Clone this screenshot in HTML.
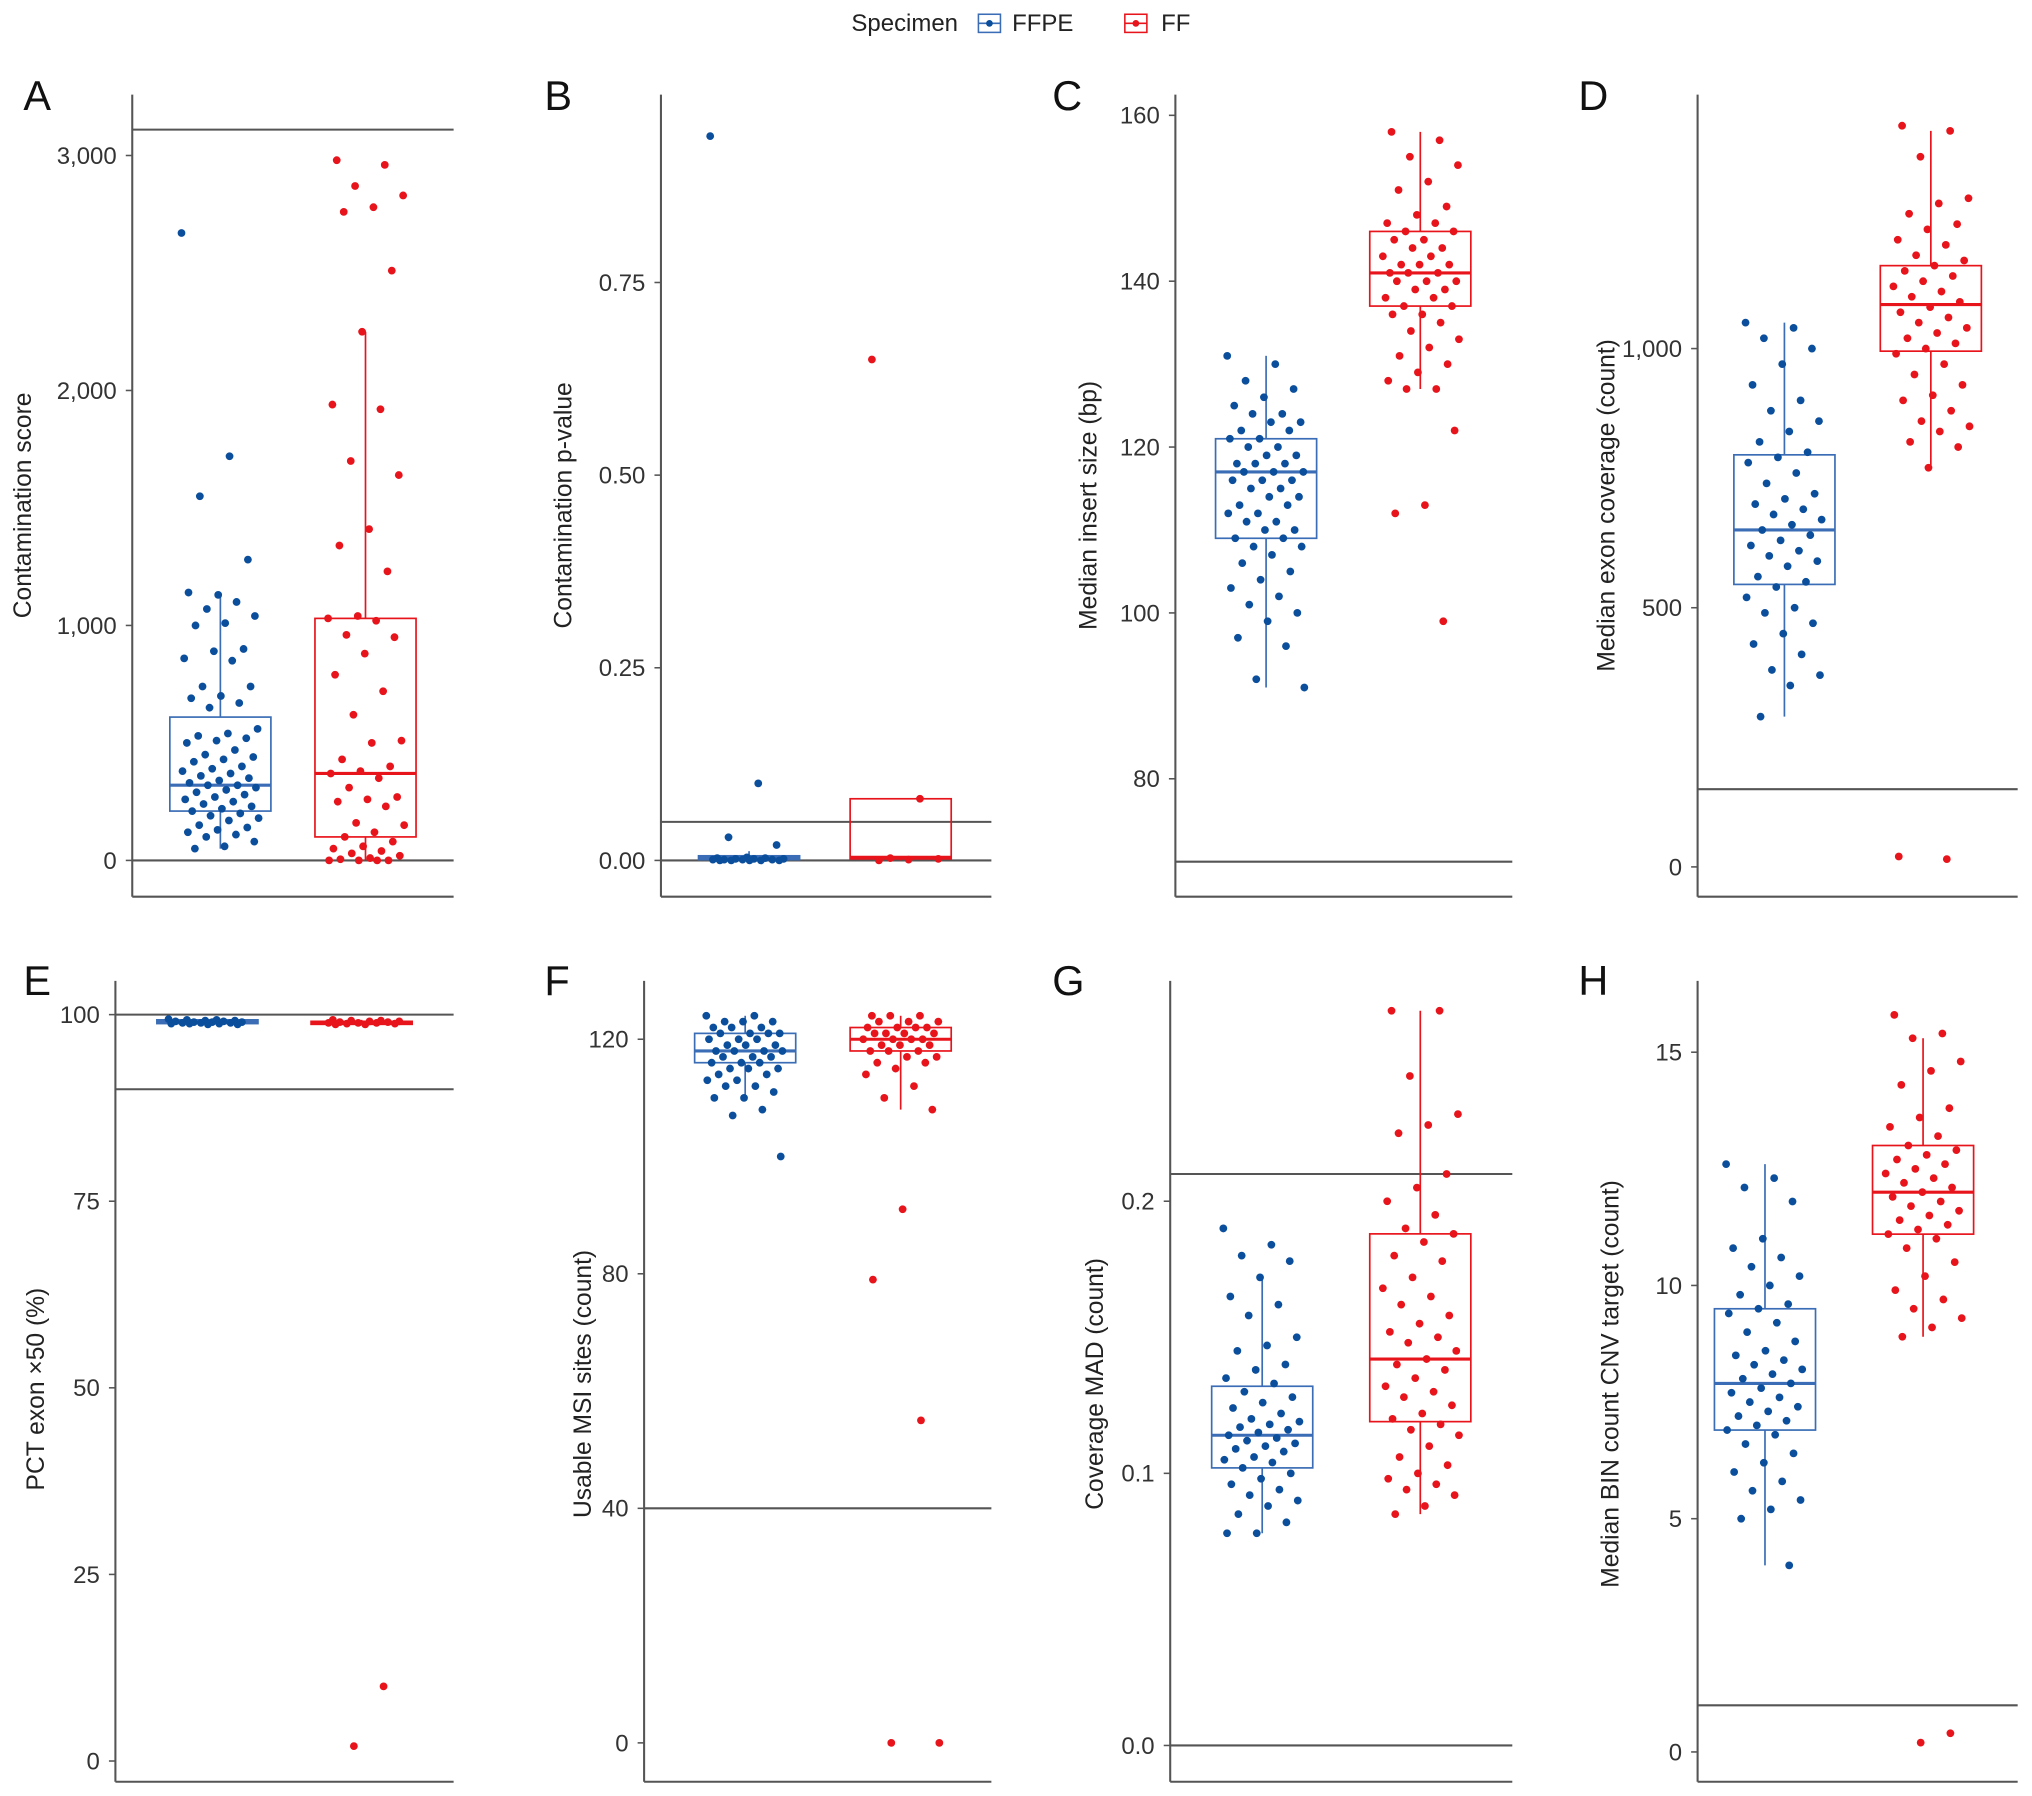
<!DOCTYPE html>
<html><head><meta charset="utf-8">
<style>
html,body{margin:0;padding:0;background:#fff;}
svg{display:block;font-family:"Liberation Sans",Arial,sans-serif;}
</style></head>
<body>
<svg id="chart" width="2032" height="1796" viewBox="0 0 1568 1386" xmlns="http://www.w3.org/2000/svg">
<g>
<text x="657" y="24" font-size="18.5" fill="#222">Specimen</text>
<g>
<rect x="755" y="11" width="17" height="14" fill="none" stroke="#3a6db5" stroke-width="1.2"/>
<line x1="755" y1="18" x2="772" y2="18" stroke="#3a6db5" stroke-width="1.2"/>
<circle cx="763.5" cy="18" r="2.6" fill="#0b4f9c"/>
<text x="781" y="24" font-size="18.5" fill="#222">FFPE</text></g>
<g>
<rect x="868" y="11" width="17" height="14" fill="none" stroke="#e8141c" stroke-width="1.2"/>
<line x1="868" y1="18" x2="885" y2="18" stroke="#e8141c" stroke-width="1.2"/>
<circle cx="876.5" cy="18" r="2.6" fill="#e8141c"/>
<text x="896" y="24" font-size="18.5" fill="#222">FF</text></g>
</g>
</svg>
<script>
// ---- data ----
const groups = ["FFPE","FF"];
const aFFPE=[2670,1720,1550,1280,1130,1140,1100,1070,1040,1010,1000,900,890,860,850,740,740,700,690,670,650,560,540,530,520,510,500,470,450,440,430,420,400,390,380,370,360,350,340,330,320,320,310,300,290,280,270,260,250,240,230,220,210,200,190,180,170,150,140,130,120,110,100,80,60,50];
const aFF=[2980,2960,2870,2830,2780,2760,2510,2250,1940,1920,1700,1640,1410,1340,1230,1040,1030,1020,960,950,880,790,720,620,510,500,430,400,380,370,350,310,270,260,250,230,160,150,120,100,80,60,50,40,30,20,10,5,0,0,0,0];
const aBox=[[50,210,320,610,1130],[0,100,370,1030,2250]];
const bFFPE=[0.94,0.10,0.03,0.02,0.004,0.003,0.003,0.002,0.002,0.002,0.001,0.001,0.001,0.001,0.0,0.0,0.0,0.0,0.0];
const bFF=[0.65,0.08,0.003,0.002,0.001,0.0];
const bBox=[[0,0.001,0.003,0.006,0.012],[0,0.002,0.004,0.08,0.08]];
const cFFPE=[131,130,128,127,126,125,124,124,123,123,122,122,121,121,120,120,119,119,118,118,118,117,117,117,116,116,116,115,115,114,114,113,113,112,112,111,111,110,110,109,109,108,108,107,106,105,104,103,102,101,100,99,97,96,92,91];
const cFF=[158,157,155,154,152,151,149,148,147,147,146,146,145,145,144,144,143,143,142,142,142,141,141,141,140,140,140,139,139,138,138,137,137,136,136,135,134,133,132,131,130,129,128,127,127,122,113,112,99];
const cBox=[[91,109,117,121,131],[127,137,141,146,158]];
const dFFPE=[1050,1040,1020,1000,970,930,900,880,860,840,820,800,790,780,760,740,720,710,700,690,680,670,660,650,640,630,620,610,600,590,580,560,550,540,520,500,490,470,450,430,410,380,370,350,290];
const dFF=[1430,1420,1370,1290,1280,1260,1240,1230,1210,1200,1180,1170,1160,1150,1140,1130,1120,1110,1100,1090,1080,1070,1060,1050,1040,1030,1020,1010,1000,990,970,950,930,910,900,880,860,850,840,820,810,770,20,15];
const dBox=[[290,545,650,795,1050],[770,995,1085,1160,1420]];
const eFFPE=[99.4,99.3,99.3,99.2,99.2,99.1,99.1,99.0,99.0,99.0,98.9,98.9,98.9,98.8,98.8,98.8,98.7,98.7];
const eFF=[99.3,99.2,99.2,99.1,99.1,99.0,99.0,98.9,98.9,98.9,98.8,98.8,98.7,98.7,10,2];
const eBox=[[98.6,98.8,99.0,99.3,99.5],[98.6,98.7,98.9,99.1,99.3]];
const fFFPE=[124,124,123,123,123,122,122,122,121,121,121,121,120,120,120,119,119,119,118,118,118,118,117,117,117,116,116,116,115,115,115,114,114,113,113,112,112,111,110,110,108,107,100];
const fFF=[124,124,124,123,123,123,122,122,122,122,121,121,121,121,120,120,120,120,119,119,119,118,118,118,117,117,116,116,115,114,112,110,108,91,79,55,0,0];
const fBox=[[110,116,118,121,124],[108,118,120,122,124]];
const gFFPE=[0.19,0.184,0.18,0.178,0.172,0.165,0.162,0.158,0.15,0.147,0.145,0.14,0.138,0.135,0.133,0.13,0.128,0.126,0.124,0.122,0.12,0.119,0.118,0.117,0.116,0.115,0.114,0.113,0.112,0.111,0.11,0.109,0.108,0.106,0.105,0.104,0.102,0.1,0.098,0.096,0.094,0.092,0.09,0.088,0.085,0.082,0.078,0.078];
const gFF=[0.27,0.27,0.246,0.232,0.228,0.225,0.21,0.205,0.2,0.195,0.19,0.188,0.185,0.18,0.178,0.172,0.168,0.165,0.162,0.158,0.155,0.152,0.15,0.148,0.145,0.142,0.14,0.138,0.135,0.132,0.13,0.128,0.125,0.122,0.12,0.118,0.116,0.114,0.11,0.106,0.103,0.1,0.098,0.096,0.094,0.092,0.088,0.085];
const gBox=[[0.078,0.102,0.114,0.132,0.173],[0.085,0.119,0.142,0.188,0.27]];
const hFFPE=[12.6,12.3,12.1,11.8,11.0,10.8,10.6,10.4,10.2,10.0,9.8,9.6,9.5,9.4,9.2,9.0,8.8,8.6,8.5,8.4,8.3,8.2,8.1,8.0,7.9,7.8,7.7,7.6,7.5,7.4,7.3,7.2,7.1,7.0,6.9,6.8,6.6,6.4,6.2,6.0,5.8,5.6,5.4,5.2,5.0,4.0];
const hFF=[15.8,15.4,15.3,14.8,14.6,14.3,13.8,13.6,13.4,13.2,13.0,12.9,12.8,12.7,12.6,12.5,12.4,12.3,12.2,12.1,12.0,11.9,11.8,11.7,11.6,11.5,11.4,11.3,11.2,11.1,11.0,10.8,10.5,10.2,9.9,9.7,9.5,9.3,9.1,8.9,0.4,0.2];
const hBox=[[4.0,6.9,7.9,9.5,12.6],[8.9,11.1,12.0,13.0,15.3]];
const ticksA=[0,1000,2000,3000], ticksB=[0,0.25,0.5,0.75], ticksC=[80,100,120,140,160], ticksD=[0,500,1000];
const ticksE=[0,25,50,75,100], ticksF=[0,40,80,120], ticksG=[0,0.1,0.2], ticksH=[0,5,10,15];
const hlinesA=[0,3110], hlinesB=[0,0.05], hlinesC=[70], hlinesD=[150], hlinesE=[90,100], hlinesF=[40], hlinesG=[0,0.21], hlinesH=[1];
// ---- layout ----
const panels=[
 {id:"A",title:"Contamination score",ax:102,x1:350,top:73,bot:692,v0:0,p0:664,v1:3000,p1:120,cx:[170,282],tx:16,ty:390,ticks:ticksA,h:hlinesA,pts:[aFFPE,aFF],box:aBox,fmt:v=>v.toLocaleString("en-US"),lx:18,ly:85},
 {id:"B",title:"Contamination p-value",ax:510,x1:765,top:73,bot:692,v0:0,p0:664,v1:0.75,p1:218,cx:[578,695],tx:433,ty:390,ticks:ticksB,h:hlinesB,pts:[bFFPE,bFF],box:bBox,fmt:v=>v.toFixed(2),lx:420,ly:85},
 {id:"C",title:"Median insert size (bp)",ax:907,x1:1167,top:73,bot:692,v0:80,p0:601,v1:160,p1:89,cx:[977,1096],tx:838,ty:390,ticks:ticksC,h:hlinesC,pts:[cFFPE,cFF],box:cBox,fmt:v=>String(v),lx:812,ly:85},
 {id:"D",title:"Median exon coverage (count)",ax:1310,x1:1557,top:73,bot:692,v0:0,p0:669,v1:1000,p1:269,cx:[1377,1490],tx:1238,ty:390,ticks:ticksD,h:hlinesD,pts:[dFFPE,dFF],box:dBox,fmt:v=>v.toLocaleString("en-US"),lx:1218,ly:85},
 {id:"E",title:"PCT exon \u00d750 (%)",ax:89,x1:350,top:757,bot:1375,v0:0,p0:1359,v1:100,p1:783,cx:[160,279],tx:26,ty:1072,ticks:ticksE,h:hlinesE,pts:[eFFPE,eFF],box:eBox,fmt:v=>String(v),lx:18,ly:768},
 {id:"F",title:"Usable MSI sites (count)",ax:497,x1:765,top:757,bot:1375,v0:0,p0:1345,v1:120,p1:802,cx:[575,695],tx:448,ty:1068,ticks:ticksF,h:hlinesF,pts:[fFFPE,fFF],box:fBox,fmt:v=>String(v),lx:420,ly:768},
 {id:"G",title:"Coverage MAD (count)",ax:903,x1:1167,top:757,bot:1375,v0:0,p0:1347,v1:0.2,p1:927,cx:[974,1096],tx:843,ty:1068,ticks:ticksG,h:hlinesG,pts:[gFFPE,gFF],box:gBox,fmt:v=>v.toFixed(1),lx:812,ly:768},
 {id:"H",title:"Median BIN count CNV target (count)",ax:1310,x1:1557,top:757,bot:1375,v0:0,p0:1352,v1:15,p1:812,cx:[1362,1484],tx:1241,ty:1068,ticks:ticksH,h:hlinesH,pts:[hFFPE,hFF],box:hBox,fmt:v=>String(v),lx:1218,ly:768}
];
const NS="http://www.w3.org/2000/svg";
const svg=document.getElementById("chart");
function mk(tag,attrs,parent){const e=document.createElementNS(NS,tag);for(const k in attrs)e.setAttribute(k,attrs[k]);parent.appendChild(e);return e;}
const colPt=["#0b4f9c","#e8141c"], colBox=["#3a6db5","#e8141c"];
panels.forEach(p=>{
  const y=v=>p.p0+(v-p.v0)*(p.p1-p.p0)/(p.v1-p.v0);
  const g=mk("g",{},svg);
  
  
  const lab=mk("text",{x:p.lx,y:p.ly,"font-size":32,fill:"#111"},g);lab.textContent=p.id;
  
  
  const ya=mk("line",{x1:p.ax,y1:p.top,x2:p.ax,y2:p.bot,stroke:"#555","stroke-width":1.6},g);
  
  
  const xa=mk("line",{x1:p.ax,y1:p.bot,x2:p.x1,y2:p.bot,stroke:"#555","stroke-width":1.6},g);
  
  
  p.ticks.forEach(t=>{
    const ty=y(t);
    mk("line",{x1:p.ax-5,y1:ty,x2:p.ax,y2:ty,stroke:"#555","stroke-width":1.2},g);
    const tl=mk("text",{x:p.ax-12,y:ty+6.5,"font-size":18.5,fill:"#333","text-anchor":"end"},g);tl.textContent=p.fmt(t);
    
    
  });
  const tt=mk("text",{x:0,y:0,"font-size":19,fill:"#222","text-anchor":"middle",transform:`translate(${p.tx+8},${p.ty}) rotate(-90)`},g);tt.textContent=p.title;
  
  
  p.h.forEach(v=>{
    const hl=mk("line",{x1:p.ax,y1:y(v),x2:p.x1,y2:y(v),stroke:"#555","stroke-width":1.6},g);
    
    
  });
  [0,1].forEach(gi=>{
    const b=p.box[gi], cx=p.cx[gi], w=39;
    const bg=mk("g",{},g);
    
    
    mk("line",{x1:cx,y1:y(b[0]),x2:cx,y2:y(b[1]),stroke:colBox[gi],"stroke-width":1.3},bg);
    mk("line",{x1:cx,y1:y(b[3]),x2:cx,y2:y(b[4]),stroke:colBox[gi],"stroke-width":1.3},bg);
    mk("rect",{x:cx-w,y:y(b[3]),width:2*w,height:Math.max(0.5,y(b[1])-y(b[3])),fill:"none",stroke:colBox[gi],"stroke-width":1.3},bg);
    mk("line",{x1:cx-w,y1:y(b[2]),x2:cx+w,y2:y(b[2]),stroke:colBox[gi],"stroke-width":2.4},bg);
    p.pts[gi].forEach((v,i)=>{
      const j=((i*0.6180339+0.13*gi)%1-0.5)*2*30;
      const c=mk("circle",{cx:cx+j,cy:y(v),r:3,fill:colPt[gi]},bg);
      
      
    });
  });
});
</script>
</body></html>
